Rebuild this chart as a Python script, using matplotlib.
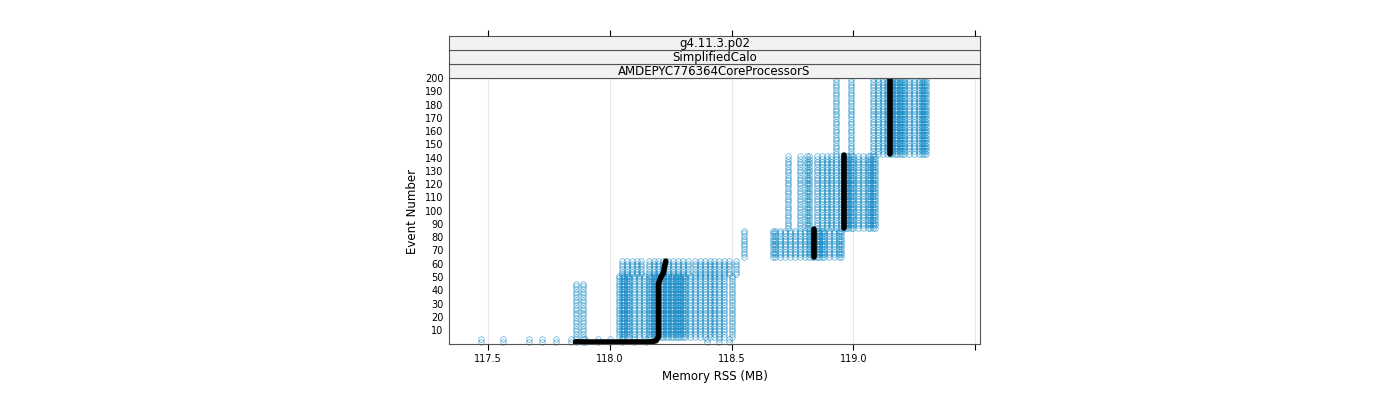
import matplotlib
matplotlib.use("Agg")
import matplotlib.pyplot as plt
import numpy as np

# column groups: memory x positions, first event, last event
low_x = [117.47, 117.56, 117.67, 117.72, 117.78, 117.84, 117.90, 117.95, 118.00, 118.05, 118.10, 118.15, 118.40, 118.45, 118.49]
low_y = (1, 3)
base_x = [117.86, 117.89]
base_y = (1, 46)
c_x = [118.04, 118.05, 118.06, 118.07, 118.08, 118.10, 118.12, 118.14, 118.16, 118.17, 118.18, 118.19, 118.20,
       118.21, 118.22, 118.23, 118.24, 118.25, 118.26, 118.27, 118.28, 118.29, 118.30, 118.31, 118.33, 118.35,
       118.37, 118.39, 118.41, 118.43, 118.45, 118.47, 118.50]
c_y = (5, 52)
d_x = [118.05, 118.07, 118.09, 118.11, 118.13, 118.16, 118.18, 118.20, 118.22, 118.24, 118.26, 118.28, 118.30,
       118.32, 118.35, 118.37, 118.39, 118.41, 118.43, 118.45, 118.47, 118.49, 118.52]
d_y = (52, 62)
e_x = [118.55, 118.67, 118.68, 118.70, 118.72, 118.74, 118.76, 118.78, 118.80, 118.82, 118.83, 118.84, 118.85,
       118.86, 118.87, 118.88, 118.90, 118.92, 118.94, 118.95]
e_y = (65, 86)
f_x = [118.73, 118.78, 118.81, 118.82, 118.85, 118.87, 118.89, 118.91, 118.93, 118.95, 118.96, 118.97, 118.98,
       118.99, 119.00, 119.02, 119.04, 119.06, 119.07, 119.08, 119.09]
f_y = (87, 142)
g_x = [118.93, 118.99, 119.08, 119.10, 119.12, 119.14, 119.15, 119.16, 119.17, 119.18, 119.19, 119.20, 119.21,
       119.23, 119.25, 119.27, 119.28, 119.29, 119.30]
g_y = (143, 200)

# median trace, one piece per event block
med1_x = [117.86, 118.17, 118.19, 118.20, 118.20, 118.21, 118.22, 118.23]
med1_y = [1, 1, 2, 5, 45, 50, 53, 62]
med2_x = [118.84, 118.84]
med2_y = [65, 86]
med3_x = [118.96, 118.96]
med3_y = [87, 142]
med4_x = [119.15, 119.15]
med4_y = [143, 200]

blue = "#0080C0"
fig = plt.figure(figsize=(14, 4), dpi=100)
ax = fig.add_axes([0.3207, 0.14, 0.3793, 0.665])
for xs, (y0, y1) in [(low_x, low_y), (base_x, base_y), (c_x, c_y), (d_x, d_y), (e_x, e_y), (f_x, f_y), (g_x, g_y)]:
    ys = np.arange(y0, y1 + 1, 2)
    for x in xs:
        ax.plot(np.full(len(ys), x), ys, "o", mfc="none", mec=blue, ms=4, mew=0.6, alpha=0.55, clip_on=False)
for mx, my in [(med1_x, med1_y), (med2_x, med2_y), (med3_x, med3_y), (med4_x, med4_y)]:
    ax.plot(mx, my, "-", color="black", lw=4, solid_capstyle="round", clip_on=False)
ax.plot([med1_x[0], med1_x[1]], [med1_y[0], med1_y[1]], "o", color="black", ms=4)
ax.set_xlim(117.34, 119.52)
ax.set_ylim(-0.5, 200)
ax.set_xticks([117.5, 118.0, 118.5, 119.0, 119.5])
ax.set_xticklabels(["117.5", "118.0", "118.5", "119.0", ""], fontsize=7)
ax.set_yticks(range(10, 201, 10))
ax.tick_params(axis="y", length=0, labelsize=7, pad=4)
ax.tick_params(axis="x", direction="out", length=4)
ax.grid(axis="x", color="#e6e6e6", lw=0.8)
ax.set_axisbelow(True)
ax.set_xlabel("Memory RSS (MB)", fontsize=8.5)
ax.set_ylabel("Event Number", fontsize=8.5)
for s in ax.spines.values():
    s.set_color("#555555"); s.set_linewidth(0.8)

strip_h = 14 / 400
labels = ["AMDEPYC776364CoreProcessorS", "SimplifiedCalo", "g4.11.3.p02"]
for i, lab in enumerate(labels):
    sax = fig.add_axes([0.3207, 0.805 + i * strip_h, 0.3793, strip_h])
    sax.set_facecolor("#f2f2f2")
    sax.set_xticks([]); sax.set_yticks([])
    for s in sax.spines.values():
        s.set_color("#555555"); s.set_linewidth(0.8)
    sax.text(0.5, 0.45, lab, ha="center", va="center", fontsize=8.5, transform=sax.transAxes)
tax = fig.add_axes([0.3207, 0.805 + 3 * strip_h, 0.3793, 0.001])
tax.set_xlim(117.34, 119.52)
tax.set_yticks([])
tax.xaxis.tick_top()
tax.set_xticks([117.5, 118.0, 118.5, 119.0, 119.5])
tax.set_xticklabels([])
tax.tick_params(axis="x", direction="out", length=4)
for s in tax.spines.values():
    s.set_visible(False)
fig.savefig("out.png")
